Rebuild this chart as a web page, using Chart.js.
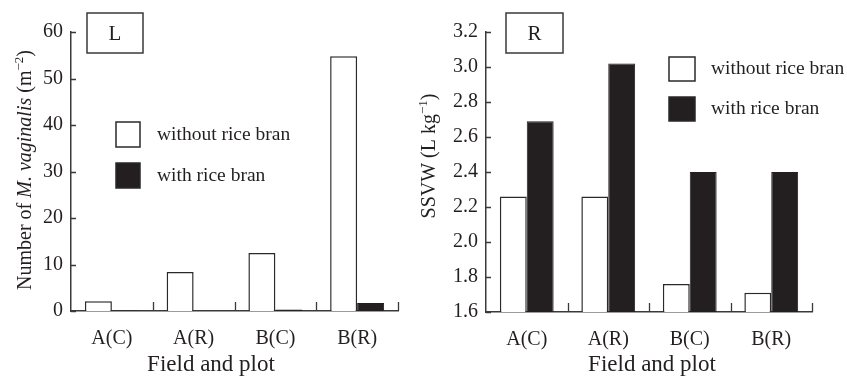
<!DOCTYPE html>
<html>
<head>
<meta charset="utf-8">
<script src="https://cdn.jsdelivr.net/npm/chart.js@4.4.1/dist/chart.umd.min.js"></script>
<style>
  body { margin: 0; background: #fff; }
  #wrap { position: relative; width: 847px; height: 378px; }
  #left { position: absolute; left: 0; top: 0; }
  #right { position: absolute; left: 410px; top: 0; }
</style>
</head>
<body>
<div id="wrap">
  <div id="left" style="width:423px;height:378px"><canvas id="chart-l"></canvas></div>
  <div id="right" style="width:437px;height:378px"><canvas id="chart-r"></canvas></div>
</div>
<script>
const categories = ['A(C)', 'A(R)', 'B(C)', 'B(R)'];
const seriesNames = ['without rice bran', 'with rice bran'];

// L: number of M. vaginalis per m2
const countWithout = [2.1, 8.4, 12.5, 54.8];
const countWith = [0.1, 0, 0.3, 1.7];
const countTicks = [0, 10, 20, 30, 40, 50, 60];

// R: SSVW (L/kg)
const ssvwWithout = [2.26, 2.26, 1.76, 1.71];
const ssvwWith = [2.69, 3.02, 2.40, 2.40];
const ssvwTicks = [1.6, 1.8, 2.0, 2.2, 2.4, 2.6, 2.8, 3.0, 3.2];

const ink = '#231f20';
const axisCol = '#3a3a3a';
const serif = "'Liberation Serif', 'DejaVu Serif', serif";

// draws inward ticks, legend, panel letter and axis titles
const decor = {
  id: 'decor',
  afterDraw(chart, args, o) {
    const ctx = chart.ctx;
    const xs = chart.scales.x, ys = chart.scales.y;
    const area = chart.chartArea;
    ctx.save();
    ctx.strokeStyle = axisCol;
    ctx.lineWidth = 1.3;
    ctx.beginPath();
    for (let i = 0; i < categories.length; i++) {
      const px = Math.round(xs.getPixelForValue(i + 0.5)) + 0.5;
      ctx.moveTo(px, area.bottom);
      ctx.lineTo(px, area.bottom - 9);
    }
    ys.ticks.forEach(t => {
      const py = Math.round(ys.getPixelForValue(t.value)) + 0.5;
      ctx.moveTo(area.left, py);
      ctx.lineTo(area.left + 5, py);
    });
    ctx.stroke();

    // panel letter box
    const b = o.box;
    ctx.lineWidth = 1.5;
    ctx.strokeRect(b.x, b.y, b.w, b.h);
    ctx.fillStyle = ink;
    ctx.font = '21px ' + serif;
    ctx.textAlign = 'center';
    ctx.textBaseline = 'middle';
    ctx.fillText(o.letter, b.x + b.w / 2, b.y + b.h / 2 + 1);

    // legend
    const lg = o.legend;
    ctx.font = '19.5px ' + serif;
    ctx.textAlign = 'left';
    chart.data.datasets.forEach((ds, i) => {
      const y = lg.y + i * lg.gap;
      ctx.fillStyle = ds.backgroundColor;
      ctx.fillRect(lg.x, y, lg.w, lg.h);
      ctx.strokeStyle = '#2a2a2a';
      ctx.lineWidth = 1.5;
      ctx.strokeRect(lg.x, y, lg.w, lg.h);
      ctx.fillStyle = ink;
      ctx.fillText(ds.label, lg.tx, y + lg.h / 2);
    });

    // x title
    ctx.font = '23px ' + serif;
    ctx.textAlign = 'center';
    ctx.fillText('Field and plot', o.xTitle.x, o.xTitle.y);

    // y title, mixed styles
    const parts = o.yTitle.parts;
    let total = 0;
    parts.forEach(p => { ctx.font = p.font; p.w = ctx.measureText(p.t).width; total += p.w; });
    ctx.translate(o.yTitle.x, o.yTitle.y);
    ctx.rotate(-Math.PI / 2);
    ctx.textAlign = 'left';
    ctx.textBaseline = 'alphabetic';
    let cx = -total / 2;
    parts.forEach(p => {
      ctx.font = p.font;
      ctx.fillText(p.t, cx, 7 - (p.rise || 0));
      cx += p.w;
    });
    ctx.restore();
  }
};

function makeChart(id, without, withRb, yTicks, cfg) {
  return new Chart(document.getElementById(id), {
    type: 'bar',
    data: {
      labels: categories,
      datasets: [
        { label: seriesNames[0], data: without, backgroundColor: '#ffffff', borderColor: '#2a2a2a', borderWidth: 1.5 },
        { label: seriesNames[1], data: withRb, backgroundColor: ink, borderColor: ink, borderWidth: 1 }
      ]
    },
    options: {
      responsive: true,
      maintainAspectRatio: false,
      animation: false,
      categoryPercentage: 0.66,
      barPercentage: 1.0,
      layout: { padding: { top: 32, right: cfg.padRight, left: 0, bottom: 0 } },
      plugins: {
        legend: { display: false },
        tooltip: { enabled: false },
        decor: cfg.decor
      },
      scales: {
        x: {
          grid: { display: false, drawTicks: false },
          border: { display: true, color: axisCol, width: 1.5 },
          ticks: { color: ink, font: { family: serif, size: 20 }, padding: 16 },
          afterFit: s => { s.height = cfg.xHeight; }
        },
        y: {
          min: yTicks[0],
          max: yTicks[yTicks.length - 1],
          grid: { display: false, drawTicks: false },
          border: { display: true, color: axisCol, width: 1.5 },
          afterBuildTicks: s => { s.ticks = yTicks.map(v => ({ value: v })); },
          ticks: {
            color: ink, font: { family: serif, size: 20 }, padding: 8,
            callback: cfg.fmt
          },
          afterFit: s => { s.width = cfg.yWidth; }
        }
      }
    },
    plugins: [decor]
  });
}

window.onload = function () {
  makeChart('chart-l', countWithout, countWith, countTicks, {
    padRight: 25, xHeight: 67, yWidth: 71,
    fmt: v => String(v),
    decor: {
      letter: 'L',
      box: { x: 87, y: 13, w: 56, h: 40 },
      legend: { x: 116, y: 122, w: 24, h: 25, gap: 41, tx: 157 },
      xTitle: { x: 211, y: 365 },
      yTitle: {
        x: 24, y: 170,
        parts: [
          { t: 'Number of ', font: '20px ' + serif },
          { t: 'M. vaginalis', font: 'italic 20px ' + serif },
          { t: ' (m', font: '20px ' + serif },
          { t: '\u22122', font: '13px ' + serif, rise: 8 },
          { t: ')', font: '20px ' + serif }
        ]
      }
    }
  });

  makeChart('chart-r', ssvwWithout, ssvwWith, ssvwTicks, {
    padRight: 35, xHeight: 66, yWidth: 76,
    fmt: v => Number(v).toFixed(1),
    decor: {
      letter: 'R',
      box: { x: 96, y: 13, w: 57, h: 40 },
      legend: { x: 259, y: 57, w: 26, h: 24, gap: 40, tx: 301 },
      xTitle: { x: 242, y: 365 },
      yTitle: {
        x: 18, y: 156,
        parts: [
          { t: 'SSVW (L kg', font: '20px ' + serif },
          { t: '\u22121', font: '13px ' + serif, rise: 8 },
          { t: ')', font: '20px ' + serif }
        ]
      }
    }
  });
};
</script>
</body>
</html>
